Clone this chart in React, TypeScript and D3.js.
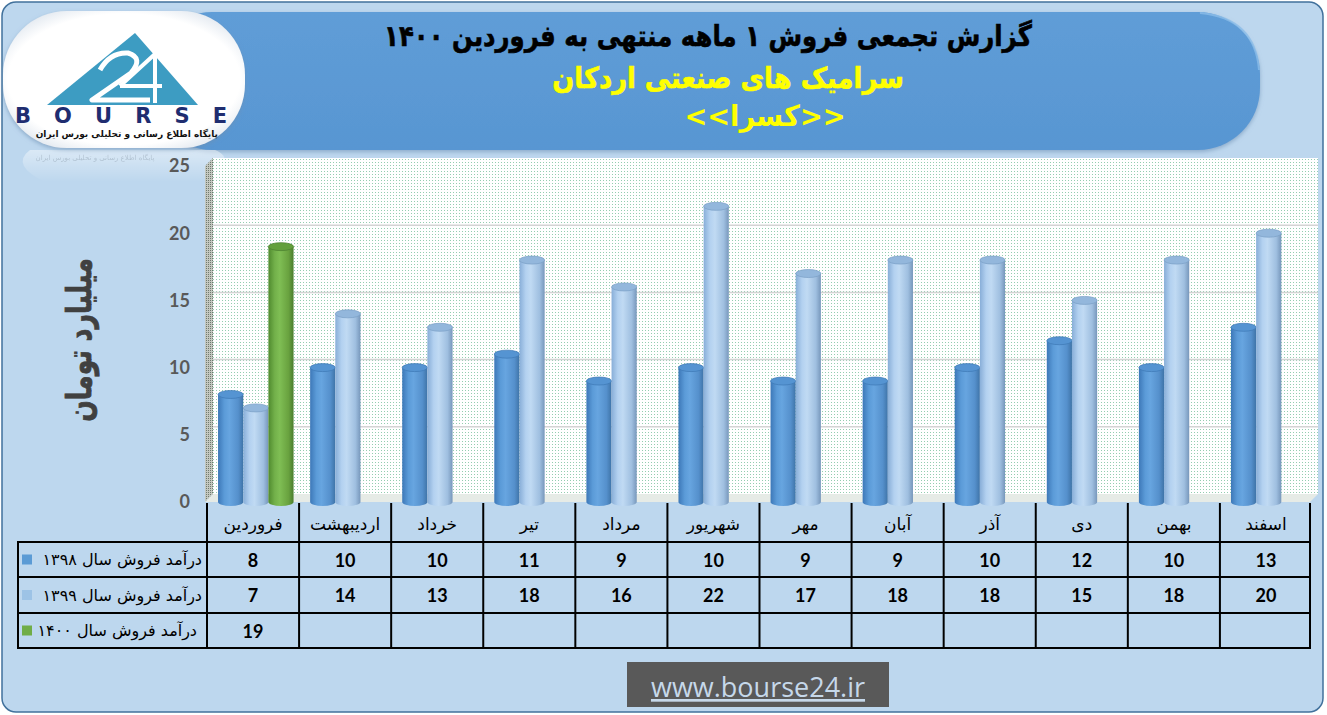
import React from 'react';
import * as d3 from 'd3';

const months = ['فروردین', 'اردیبهشت', 'خرداد', 'تیر', 'مرداد', 'شهریور', 'مهر', 'آبان', 'آذر', 'دی', 'بهمن', 'اسفند'];
const sales1398 = [8, 10, 10, 11, 9, 10, 9, 9, 10, 12, 10, 13];
const sales1399 = [7, 14, 13, 18, 16, 22, 17, 18, 18, 15, 18, 20];
const sales1400 = [19];
const seriesNames = ['درآمد فروش سال ۱۳۹۸', 'درآمد فروش سال ۱۳۹۹', 'درآمد فروش سال ۱۴۰۰'];
const yTicks = [0, 5, 10, 15, 20, 25];
const titleLine1 = 'گزارش تجمعی فروش ۱ ماهه منتهی به فروردین ۱۴۰۰';
const titleLine2 = 'سرامیک های صنعتی اردکان';
const titleLine3 = '<<کسرا>>';
const yAxisTitle = 'میلیارد تومان';
const siteUrl = 'www.bourse24.ir';
const logoCaption = 'پایگاه اطلاع رسانی و تحلیلی بورس ایران';

const seriesValues = [sales1398, sales1399, sales1400];
const seriesStyle = [
  { grad: 'g1398', top: '#5594d2', rim: '#3d78b4', legend: '#5b9bd5' },
  { grad: 'g1399', top: '#93b7dc', rim: '#7a9fc6', legend: '#9dc3e6' },
  { grad: 'g1400', top: '#63a03c', rim: '#4c8030', legend: '#70ad47' },
];

const FA = '"DejaVu Sans", sans-serif';
const NUM = 'Lato, "Open Sans", sans-serif';

export default function App() {
  const W = 1327;
  const H = 715;
  const plotLeft = 207;
  const plotRight = 1312;
  const x = d3.scaleBand<string>().domain(months).range([plotLeft, plotRight]);
  const bw = x.bandwidth();
  const xs = d3.scaleBand<number>().domain([0, 1, 2]).range([bw * 0.12, bw * 0.94]);
  const y = d3.scaleLinear().domain([0, 25]).range([502, 166]);
  const wallOff = 8;
  const wallX = plotLeft + 6;
  const wallRight = 1318;

  const tableTop = 542;
  const rowH = [542, 577, 613, 648];
  const tableLeft = 18;
  const headerTop = 503;

  const cyl = (x0: number, w: number, v: number, s: number, key: string) => {
    const yTop = y(v);
    const yBot = y(0);
    const rx = w / 2;
    const ry = 4;
    const st = seriesStyle[s];
    const body = `M${x0},${yTop} L${x0},${yBot} A${rx},${ry} 0 0 0 ${x0 + w},${yBot} L${x0 + w},${yTop} Z`;
    return (
      <g key={key}>
        <path d={body} fill={`url(#${st.grad})`} />
        <ellipse cx={x0 + rx} cy={yTop} rx={rx} ry={ry} fill={st.top} stroke={st.rim} strokeWidth={0.7} />
      </g>
    );
  };

  return (
    <svg width={W} height={H} style={{ position: 'absolute', left: 0, top: 0 }} xmlns="http://www.w3.org/2000/svg">
      <defs>
        <pattern id="dots" width="3" height="3" patternUnits="userSpaceOnUse">
          <rect width="3" height="3" fill="#ffffff" />
          <rect width="1" height="1" fill="#94cdb0" />
        </pattern>
        <pattern id="wallDots" width="2" height="2" patternUnits="userSpaceOnUse">
          <rect width="2" height="2" fill="#c4c8c0" />
          <rect width="1" height="1" fill="#6f7a6f" />
        </pattern>
        <linearGradient id="g1398" x1="0" x2="1" y1="0" y2="0">
          <stop offset="0" stopColor="#3d78b8" />
          <stop offset="0.25" stopColor="#5b9bd8" />
          <stop offset="0.45" stopColor="#67a5e0" />
          <stop offset="0.8" stopColor="#5590cc" />
          <stop offset="1" stopColor="#3f74a8" />
        </linearGradient>
        <linearGradient id="g1399" x1="0" x2="1" y1="0" y2="0">
          <stop offset="0" stopColor="#88aed8" />
          <stop offset="0.25" stopColor="#b3d1f0" />
          <stop offset="0.45" stopColor="#c0daf3" />
          <stop offset="0.8" stopColor="#9fbfe0" />
          <stop offset="1" stopColor="#7797bb" />
        </linearGradient>
        <linearGradient id="g1400" x1="0" x2="1" y1="0" y2="0">
          <stop offset="0" stopColor="#4f8a2e" />
          <stop offset="0.25" stopColor="#72b04a" />
          <stop offset="0.45" stopColor="#7fbe54" />
          <stop offset="0.8" stopColor="#69a23f" />
          <stop offset="1" stopColor="#4a7d2e" />
        </linearGradient>
        <linearGradient id="banner" x1="0" x2="0" y1="0" y2="1">
          <stop offset="0" stopColor="#5f9dd7" />
          <stop offset="1" stopColor="#5896d2" />
        </linearGradient>
        <radialGradient id="logoGlow" cx="0.5" cy="0.5" r="0.6">
          <stop offset="0.8" stopColor="#ffffff" />
          <stop offset="1" stopColor="#dfe6ee" />
        </radialGradient>
        <linearGradient id="reflect" x1="0" x2="0" y1="0" y2="1">
          <stop offset="0" stopColor="#ffffff" stopOpacity="0.45" />
          <stop offset="1" stopColor="#ffffff" stopOpacity="0" />
        </linearGradient>
        <filter id="soft" x="-10%" y="-10%" width="120%" height="130%">
          <feDropShadow dx="0" dy="2" stdDeviation="2" floodColor="#6d8fb3" floodOpacity="0.6" />
        </filter>
      </defs>

      {/* outer frame */}
      <rect x={2} y={2} width={1321} height={710} rx={14} fill="#bdd7ee" stroke="#41719c" strokeWidth={1.5} />

      {/* title banner */}
      <rect x={150} y={12} width={1110} height={138} rx={62} fill="url(#banner)" filter="url(#soft)" />
      <path d="M1200,13 Q1255,18 1259,70" fill="none" stroke="#8bbde8" strokeWidth={2} opacity={0.8} />

      {/* logo */}
      <path d="M30,150 L215,150 Q240,160 200,182 L45,182 Q10,165 30,150 Z" fill="url(#reflect)" />
      <text x={95} y={160} fontFamily={FA} fontSize={7} fill="#8a9aaa" opacity={0.45} textAnchor="middle" direction="rtl">{logoCaption}</text>
      <rect x={3} y={11} width={242} height={137} rx={64} ry={64} fill="url(#logoGlow)" filter="url(#soft)" />
      <path d="M47,105 L135,33 L198,105 Z" fill="#3d9cc2" />
      <path d="M100,70 Q110,52 128,53 Q144,58 131,73 L92,100 L150,100" fill="none" stroke="#ffffff" strokeWidth={5} strokeLinejoin="round" />
      <path d="M155,52 L155,103 M120,86 L162,86 M155,54 L120,86" fill="none" stroke="#ffffff" strokeWidth={4} />
      <text x={15} y={123} fontFamily={'"DejaVu Sans", sans-serif'} fontWeight="bold" fontSize={21} fill="#1f2d70" textLength={212} lengthAdjust="spacing">BOURSE</text>
      <text x={218} y={137} fontFamily={FA} fontWeight="bold" fontSize={9} fill="#111" textAnchor="start" direction="rtl">{logoCaption}</text>

      {/* titles */}
      <g transform="translate(708,46) scale(0.84,1)">
        <text x={0} y={0} fontFamily={FA} fontWeight="bold" fontSize={29} fill="#000" textAnchor="middle" direction="rtl" stroke="#000" strokeWidth={0.6}>{titleLine1}</text>
      </g>
      <g transform="translate(728,88) scale(0.89,1)">
        <text x={0} y={0} fontFamily={FA} fontWeight="bold" fontSize={29} fill="#ffff00" textAnchor="middle" direction="rtl" stroke="#ffff00" strokeWidth={0.6}>{titleLine2}</text>
      </g>
      <g transform="translate(765,126) scale(0.94,1)">
        <text x={0} y={0} fontFamily={FA} fontWeight="bold" fontSize={29} fill="#ffff00" textAnchor="middle" direction="rtl">{titleLine3}</text>
      </g>

      {/* plot back wall */}
      <rect x={wallX} y={y(25) - wallOff} width={wallRight - wallX} height={y(0) - y(25)} fill="url(#dots)" />
      {yTicks.filter((t) => t > 0 && t < 25).map((t) => (
        <line key={`g${t}`} x1={wallX} x2={wallRight} y1={y(t) - wallOff} y2={y(t) - wallOff} stroke="#d4d4d4" strokeWidth={1.5} />
      ))}
      {/* left side wall */}
      <path d={`M${plotLeft - 2},${y(25)} L${wallX},${y(25) - wallOff} L${wallX},${y(0) - wallOff} L${plotLeft - 2},${y(0)} Z`} fill="url(#wallDots)" />
      {/* floor */}
      <path d={`M${plotLeft - 2},${y(0)} L${wallX},${y(0) - wallOff} L${wallRight},${y(0) - wallOff} L${plotRight - 2},${y(0)} Z`} fill="#e6ebe6" />

      {/* y axis labels */}
      {yTicks.map((t) => (
        <text key={`t${t}`} x={190} y={y(t)} dy="0.36em" fontFamily={NUM} fontWeight="bold" fontSize={18} fill="#595959" textAnchor="end">{t}</text>
      ))}
      <g transform="translate(79,340) rotate(-90) scale(0.74,1)">
        <text x={0} y={0} fontFamily={FA} fontWeight="bold" fontSize={34} fill="#404040" textAnchor="middle" dy="0.35em" direction="rtl" stroke="#404040" strokeWidth={0.8}>{yAxisTitle}</text>
      </g>

      {/* bars */}
      {months.map((m, i) => (
        <g key={m}>
          {seriesValues.map((vals, s) => (vals[i] !== undefined ? cyl((x(m) as number) + (xs(s) as number), xs.bandwidth(), vals[i], s, `${m}-${s}`) : null))}
        </g>
      ))}

      {/* data table */}
      {d3.range(months.length + 1).map((i) => {
        const xx = i < months.length ? (x(months[i]) as number) : plotRight - 2;
        return <line key={`v${i}`} x1={xx} x2={xx} y1={headerTop} y2={rowH[3]} stroke="#000" strokeWidth={2} />;
      })}
      <line x1={tableLeft} x2={tableLeft} y1={tableTop} y2={rowH[3]} stroke="#000" strokeWidth={2} />
      {rowH.map((r, i) => (
        <line key={`h${i}`} x1={tableLeft - 1} x2={plotRight - 1} y1={r} y2={r} stroke="#000" strokeWidth={2} />
      ))}
      {months.map((m) => (
        <text key={`m${m}`} x={(x(m) as number) + bw / 2} y={524} dy="0.35em" fontFamily={FA} fontSize={17} fill="#000" textAnchor="middle" direction="rtl">{m}</text>
      ))}
      {seriesValues.map((vals, s) => (
        <g key={`row${s}`}>
          <rect x={22} y={(rowH[s] + rowH[s + 1]) / 2 - 5} width={10} height={10} fill={seriesStyle[s].legend} />
          <text x={s === 2 ? 197 : 202} y={(rowH[s] + rowH[s + 1]) / 2} dy="0.35em" fontFamily={FA} fontSize={16} fill="#000" textAnchor="start" direction="rtl">{seriesNames[s]}</text>
          {vals.map((v, i) => (
            <text key={`c${s}-${i}`} x={(x(months[i]) as number) + bw / 2} y={(rowH[s] + rowH[s + 1]) / 2 + 1} dy="0.35em" fontFamily={NUM} fontWeight="bold" fontSize={18} fill="#000" textAnchor="middle">{v}</text>
          ))}
        </g>
      ))}

      {/* url box */}
      <rect x={627} y={662} width={262} height={45} fill="#595959" />
      <text x={758} y={697} fontFamily={'"Open Sans", sans-serif'} fontSize={27} fill="#c6d8ea" textAnchor="middle" textDecoration="underline">{siteUrl}</text>
    </svg>
  );
}
